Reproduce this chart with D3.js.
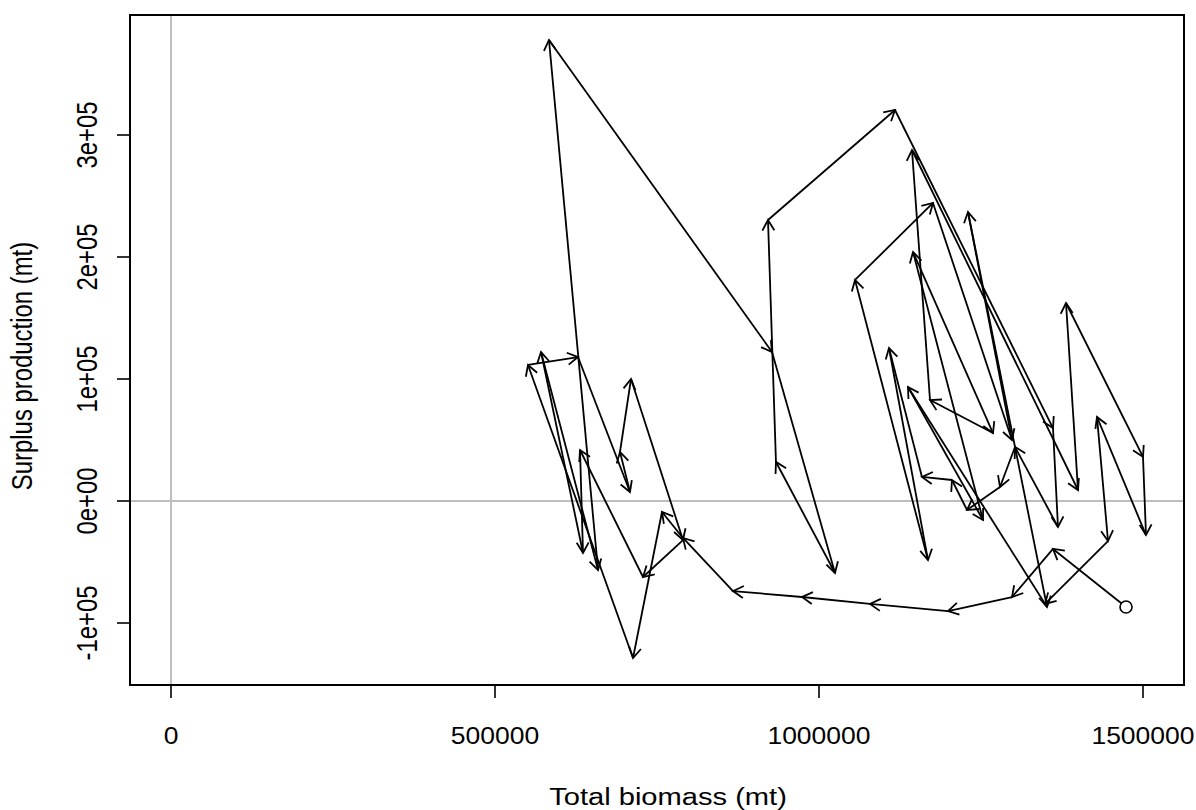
<!DOCTYPE html>
<html><head><meta charset="utf-8">
<script src="https://cdn.jsdelivr.net/npm/d3@7"></script>
<style>html,body{margin:0;padding:0;background:#fff;}</style>
</head><body>
<svg id="c" width="1196" height="810"></svg>
<script>
// Total biomass (mt), in time order
const biomass = [1473800,1361100,1297800,1199100,1078700,973800,867300,790100,757700,713000,
  550900,628100,708300,692900,709900,790100,728400,631200,635800,571000,
  659000,583300,927500,1024700,933600,921300,1117300,1361100,1368800,1302500,
  1279300,1228400,1205200,1158900,1108000,1168200,1055600,1175900,1297800,1229900,
  1351900,1137300,1253100,1145100,1268500,1171300,1143500,1399700,1381200,1500000,
  1504600,1429000,1446000,1348800];
// Surplus production (mt), in time order
const production = [-86900,-39300,-78700,-90200,-84400,-78700,-73800,-30300,-9000,-128700,
  111500,118000,7400,40200,100000,-32000,-62300,41800,-42600,122100,
  -56600,377900,122100,-59000,32000,230300,320500,59800,-21300,44300,
  11500,-7400,17200,19700,125400,-48400,181200,244300,50000,236900,
  -86900,93400,-15600,204100,55700,82800,287700,9000,162300,36100,
  -27900,68900,-32800,-84400];
const xTicks = [0,500000,1000000,1500000];
const yTicks = [-100000,0,100000,200000,300000];
const yTickLabels = ["-1e+05","0e+00","1e+05","2e+05","3e+05"];
const xTitle = "Total biomass (mt)";
const yTitle = "Surplus production (mt)";

const svg = d3.select("#c");
const L=130,R=1184,T=15,B=685;
const x = d3.scaleLinear().domain([-63272,1563272]).range([L,R]);
const y = d3.scaleLinear().domain([-150820,398361]).range([B,T]);
const font = "'Liberation Sans', Arial, sans-serif";
const fs = 26, sy = 0.92;

svg.append("line").attr("x1",x(0)).attr("x2",x(0)).attr("y1",T).attr("y2",B)
  .attr("stroke","#bebebe").attr("stroke-width",2);
svg.append("line").attr("x1",L).attr("x2",R).attr("y1",y(0)).attr("y2",y(0))
  .attr("stroke","#bebebe").attr("stroke-width",2);

const ah = 12, ang = Math.PI/6;
const g = svg.append("g").attr("stroke","#000").attr("stroke-width",1.8).attr("fill","none");
for (let i=0;i<biomass.length-1;i++){
  const x0=x(biomass[i]), y0=y(production[i]), x1=x(biomass[i+1]), y1=y(production[i+1]);
  g.append("line").attr("x1",x0).attr("y1",y0).attr("x2",x1).attr("y2",y1);
  const a=Math.atan2(y1-y0,x1-x0);
  const p = [[x1-ah*Math.cos(a-ang), y1-ah*Math.sin(a-ang)],[x1,y1],[x1-ah*Math.cos(a+ang), y1-ah*Math.sin(a+ang)]];
  g.append("path").attr("d",d3.line()(p));
}
svg.append("circle").attr("cx",x(biomass[0])).attr("cy",y(production[0])).attr("r",6)
  .attr("fill","#fff").attr("stroke","#000").attr("stroke-width",1.6);

svg.append("rect").attr("x",L).attr("y",T).attr("width",R-L).attr("height",B-T)
  .attr("fill","none").attr("stroke","#000").attr("stroke-width",2);

function txt(px,py,rot,s,sx){
  return svg.append("text").attr("transform",`translate(${px},${py}) scale(${sx},${sy}) rotate(${rot})`)
    .attr("text-anchor","middle").attr("font-family",font).attr("font-size",fs).text(s);
}
xTicks.forEach(v=>{
  svg.append("line").attr("x1",x(v)).attr("x2",x(v)).attr("y1",B).attr("y2",B+13).attr("stroke","#000").attr("stroke-width",1.6);
  txt(x(v),744,0,d3.format("d")(v),1.02);
});
yTicks.forEach((v,i)=>{
  svg.append("line").attr("x1",L-13).attr("x2",L).attr("y1",y(v)).attr("y2",y(v)).attr("stroke","#000").attr("stroke-width",1.6);
  txt(97,y(v),-90,yTickLabels[i],1.12);
});
txt(668,805,0,xTitle,1.12);
txt(32,366,-90,yTitle,1.12);
</script>
</body></html>
